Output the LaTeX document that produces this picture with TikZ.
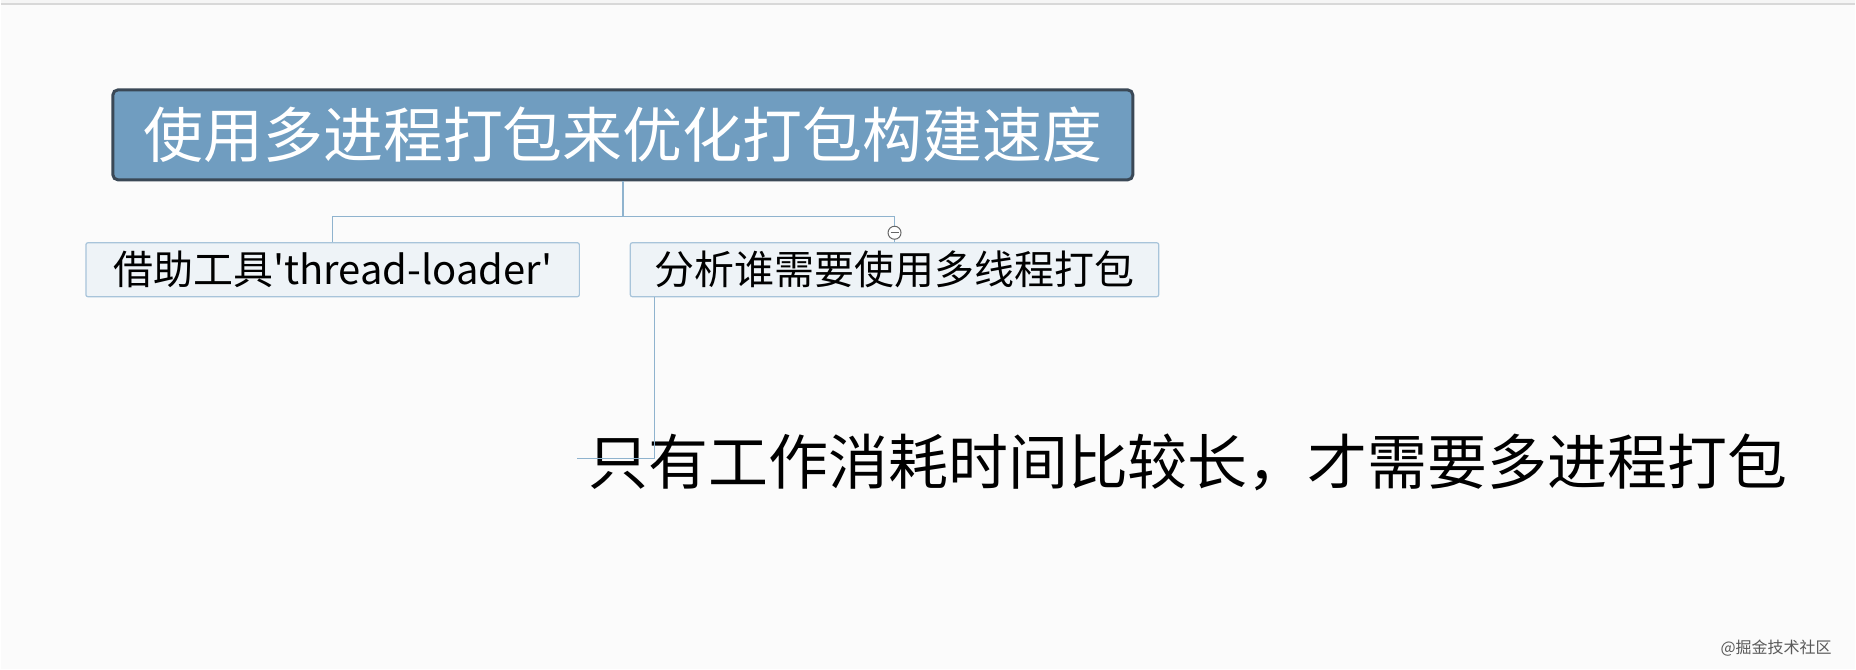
\documentclass[tikz,border=0pt]{standalone}
\usepackage{fontspec}
\setmainfont{Noto Sans CJK SC}
\newfontfamily\cjk{Noto Sans CJK SC}
\definecolor{bgc}{HTML}{FBFBFB}
\definecolor{rootfill}{HTML}{709DC0}
\definecolor{rootline}{HTML}{3A4856}
\definecolor{kidfill}{HTML}{EEF3F7}
\definecolor{kidline}{HTML}{A8C4DA}
\definecolor{connc}{HTML}{8FB3CE}
\tikzset{
  rootbox/.style={draw=rootline, line width=3pt, fill=rootfill, rounded corners=5pt,
    minimum width=1021pt, minimum height=90pt, inner sep=0pt, text=white,
    font=\cjk\fontsize{60}{60}\selectfont},
  kidbox/.style={draw=kidline, line width=1.2pt, fill=kidfill, rounded corners=2pt,
    minimum height=54pt, inner sep=0pt, text=black,
    font=\cjk\fontsize{40}{40}\selectfont},
  leaftext/.style={inner sep=0pt, text=black, font=\cjk\fontsize{60}{60}\selectfont},
  conn/.style={draw=connc, line width=1.4pt}
}
\begin{document}
\begin{tikzpicture}[x=1pt,y=-1pt]
\fill[bgc] (0,0) rectangle (1856,670);
\fill[white!96!black] (0,0) rectangle (1856,4);
\draw[line width=2pt, color={rgb,255:red,216;green,216;blue,216}] (0,4.5) -- (1856,4.5);
\useasboundingbox (0,0) rectangle (1856,670);

\node[rootbox] (root) at (622.5,135) {使用多进程打包来优化打包构建速度};
\node[kidbox, minimum width=494pt] (c1) at (332,270) {借助工具'thread-loader'};
\node[kidbox, minimum width=529pt] (c2) at (894.5,270) {分析谁需要使用多线程打包};
\node[leaftext, anchor=west] (g) at (588,463) {只有工作消耗时间比较长，才需要多进程打包};

\coordinate (bus) at (0,217);
\draw[conn] (root.south) -- (root.south |- bus);
\draw[conn] (c1.north) |- (c2.north |- bus) -- (c2.north);

\node[circle, draw=gray!80!black, fill=white, line width=1pt, minimum size=13pt, inner sep=0pt] (tog) at (894.5,233) {};
\draw[gray!80!black, line width=1pt] ([xshift=-4pt]tog.center) -- ([xshift=4pt]tog.center);

\coordinate (gend) at (577,459);
\draw[conn] ([xshift=25pt]c2.south west) |- (gend);

\node[inner sep=0pt, text=gray!70!black, font=\cjk\fontsize{16}{16}\selectfont] (wm) at (1777,649) {@掘金技术社区};
\end{tikzpicture}
\end{document}
